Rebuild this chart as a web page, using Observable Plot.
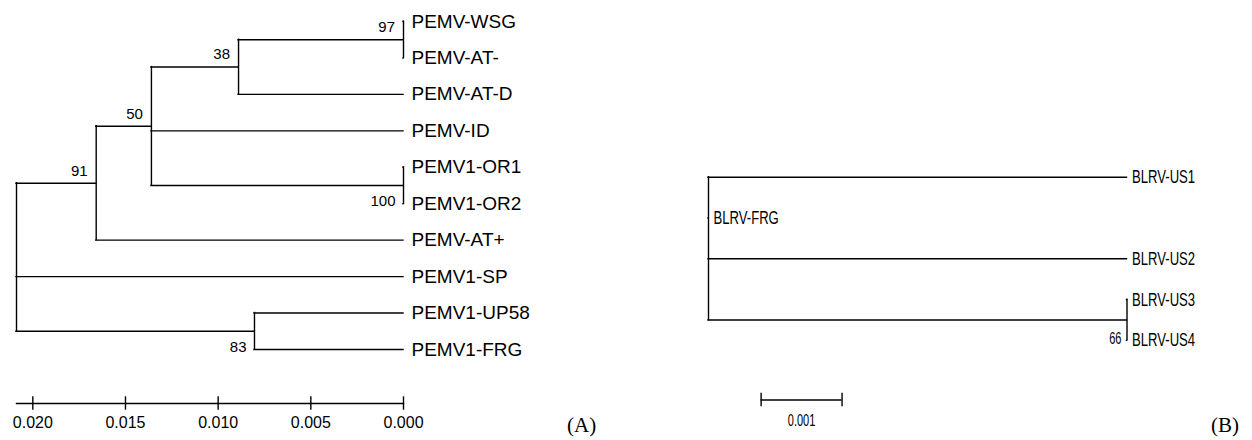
<!DOCTYPE html>
<html>
<head>
<meta charset="utf-8">
<script src="https://cdn.jsdelivr.net/npm/d3@7"></script>
<script src="https://cdn.jsdelivr.net/npm/@observablehq/plot@0.6"></script>
<style>
  html, body { margin: 0; padding: 0; background: #fff; }
  #wrap { position: relative; width: 1252px; height: 440px; overflow: hidden; background: #fff; }
  .panel { position: absolute; top: 0; }
  .tag { position: absolute; font-family: "Liberation Serif", "Times New Roman", serif; font-size: 21px; line-height: 21px; color: #000; white-space: nowrap; }
</style>
</head>
<body>
<div id="wrap">
  <div id="pa" class="panel" style="left:0px"></div>
  <div id="pb" class="panel" style="left:620px"></div>
</div>
<script>
// ---------- Panel A data (PEMV) ----------
const leavesA = ["PEMV-WSG","PEMV-AT-","PEMV-AT-D","PEMV-ID","PEMV1-OR1","PEMV1-OR2","PEMV-AT+","PEMV1-SP","PEMV1-UP58","PEMV1-FRG"];
const leafParentA = ["n97","n97","n38","n50","n100","n100","n91","root","n83","n83"];
const leafDepthA = [0,0,0,0,0,0,0,0,0,0];
const nodesA = ["root","n91","n50","n38","n97","n100","n83"];
const nodeParentA = [null,"root","n91","n50","n38","n50","root"];
const nodeDepthA = [0.02088,0.01658,0.01360,0.00890,0,0,0.00804];
const supportA = [null,91,50,38,97,100,83];
const ticksA = [0.020,0.015,0.010,0.005,0.000];

// ---------- Panel B data (BLRV) ----------
const leavesB = ["BLRV-US1","BLRV-FRG","BLRV-US2","BLRV-US3","BLRV-US4"];
const leafParentB = ["root","root","root","n66","n66"];
const leafDistB = [0.00517,0,0.00517,0.00517,0.00517];
const nodesB = ["root","n66"];
const nodeParentB = [null,"root"];
const nodeDistB = [0,0.00517];
const supportB = [null,66];
const scaleBarLenB = 0.001;
const scaleBarStartB = 0.00065;

const panelTags = ["(A)","(B)"];

// ---------- tree layout from the arrays ----------
function layout(leaves, leafParent, leafPos, nodes, nodeParent, nodePos, support) {
  const map = new Map();
  nodes.forEach((id, i) => map.set(id, {id, parent: nodeParent[i], pos: nodePos[i], support: support[i], children: [], leaf: false}));
  leaves.forEach((name, i) => map.set("leaf:" + name, {id: "leaf:" + name, name, parent: leafParent[i], pos: leafPos[i], children: [], leaf: true, y: i}));
  for (const n of map.values()) if (n.parent) map.get(n.parent).children.push(n);
  function setY(n) {
    if (n.leaf) return n.y;
    const ys = n.children.map(setY);
    n.ymin = Math.min(...ys); n.ymax = Math.max(...ys);
    n.y = (n.ymin + n.ymax) / 2;
    return n.y;
  }
  const all = [...map.values()];
  const root = all.find(n => !n.parent);
  setY(root);
  const horiz = all.filter(n => n.parent).map(n => ({y: n.y, x1: map.get(n.parent).pos, x2: n.pos}));
  const vert = all.filter(n => !n.leaf).map(n => ({x: n.pos, y1: n.ymin, y2: n.ymax}));
  const sup = all.filter(n => !n.leaf && n.support != null).map(n => ({
    x: n.pos, y: n.y, label: String(n.support),
    below: n.parent ? n.y === map.get(n.parent).ymax : false
  }));
  return {all, horiz, vert, sup, root};
}

const FONT = "'Liberation Sans', Arial, Helvetica, sans-serif";
const SW = 1.4;

// ---------- Panel A ----------
const A = layout(leavesA, leafParentA, leafDepthA, nodesA, nodeParentA, nodeDepthA, supportA);
const plotA = Plot.plot({
  width: 620, height: 440,
  marginLeft: 16, marginRight: 217, marginTop: 21, marginBottom: 37,
  style: {fontFamily: FONT, background: "#fff", color: "#000", overflow: "visible"},
  x: {domain: [A.root.pos, 0], axis: null},
  y: {domain: [0, leavesA.length - 1], range: [21, 349], axis: null},
  marks: [
    Plot.frame({anchor: "bottom", strokeWidth: SW}),
    Plot.axisX({ticks: ticksA, tickFormat: d => d.toFixed(3), tickSize: 13.4, dy: -6.7, tickPadding: 6, fontSize: 16, strokeWidth: SW, label: null}),
    Plot.ruleY(A.horiz, {y: "y", x1: "x1", x2: "x2", strokeWidth: SW, strokeLinecap: "square"}),
    Plot.ruleX(A.vert, {x: "x", y1: "y1", y2: "y2", strokeWidth: SW, strokeLinecap: "square"}),
    Plot.text(leavesA, {x: leafDepthA, y: (d, i) => i, text: d => d, textAnchor: "start", lineAnchor: "middle", dx: 8, fontSize: 19}),
    Plot.text(A.sup.filter(d => !d.below), {x: "x", y: "y", text: "label", textAnchor: "end", lineAnchor: "middle", dx: -8.5, dy: -12.5, fontSize: 15}),
    Plot.text(A.sup.filter(d => d.below), {x: "x", y: "y", text: "label", textAnchor: "end", lineAnchor: "middle", dx: -8, dy: 16, fontSize: 15})
  ]
});
document.getElementById("pa").appendChild(plotA);

// ---------- Panel B ----------
const B = layout(leavesB, leafParentB, leafDistB, nodesB, nodeParentB, nodeDistB, supportB);
const yRangeB = [176.7, 339.9];
const rowPxB = (yRangeB[1] - yRangeB[0]) / (leavesB.length - 1);
const barRowB = leavesB.length + 0.46;
const barTickHalf = 6.7 / rowPxB;
const barEnds = [scaleBarStartB, scaleBarStartB + scaleBarLenB];
const plotB = Plot.plot({
  width: 632, height: 440,
  marginLeft: 88, marginRight: 125.5, marginTop: 20, marginBottom: 40,
  style: {fontFamily: FONT, background: "#fff", color: "#000", overflow: "visible"},
  x: {domain: [0, d3.max(leafDistB)], axis: null},
  y: {domain: [0, leavesB.length - 1], range: yRangeB, axis: null},
  marks: [
    Plot.ruleY(B.horiz, {y: "y", x1: "x1", x2: "x2", strokeWidth: SW, strokeLinecap: "square"}),
    Plot.ruleX(B.vert, {x: "x", y1: "y1", y2: "y2", strokeWidth: SW, strokeLinecap: "square"}),
    Plot.text(leavesB, {x: leafDistB, y: (d, i) => i, text: d => d, textAnchor: "start", lineAnchor: "middle", dx: 5, fontSize: 19}),
    Plot.text(B.sup, {x: "x", y: "y", text: "label", textAnchor: "end", lineAnchor: "middle", dx: -5.5, dy: 19, fontSize: 16}),
    Plot.ruleY([barRowB], {y: d => d, x1: barEnds[0], x2: barEnds[1], strokeWidth: SW}),
    Plot.ruleX(barEnds, {x: d => d, y1: barRowB - barTickHalf, y2: barRowB + barTickHalf, strokeWidth: SW}),
    Plot.text([scaleBarLenB], {x: d => scaleBarStartB + d / 2, y: barRowB, text: d => d.toFixed(3), textAnchor: "middle", lineAnchor: "middle", dy: 21.4, fontSize: 16})
  ]
});
// the right panel's lettering is horizontally condensed
plotB.querySelectorAll("text").forEach(t => {
  const tr = t.getAttribute("transform");
  if (tr) t.setAttribute("transform", tr + " scale(0.69,1)");
  else {
    const x = +t.getAttribute("x") || 0, y = +t.getAttribute("y") || 0;
    t.setAttribute("transform", `translate(${x},${y}) scale(0.69,1) translate(${-x},${-y})`);
  }
});
document.getElementById("pb").appendChild(plotB);

// ---------- panel tags ----------
const wrap = document.getElementById("wrap");
[[panelTags[0], 567], [panelTags[1], 1211]].forEach(([t, left]) => {
  const s = document.createElement("span");
  s.className = "tag"; s.textContent = t;
  s.style.left = left + "px"; s.style.top = "415px";
  wrap.appendChild(s);
});
</script>
</body>
</html>
